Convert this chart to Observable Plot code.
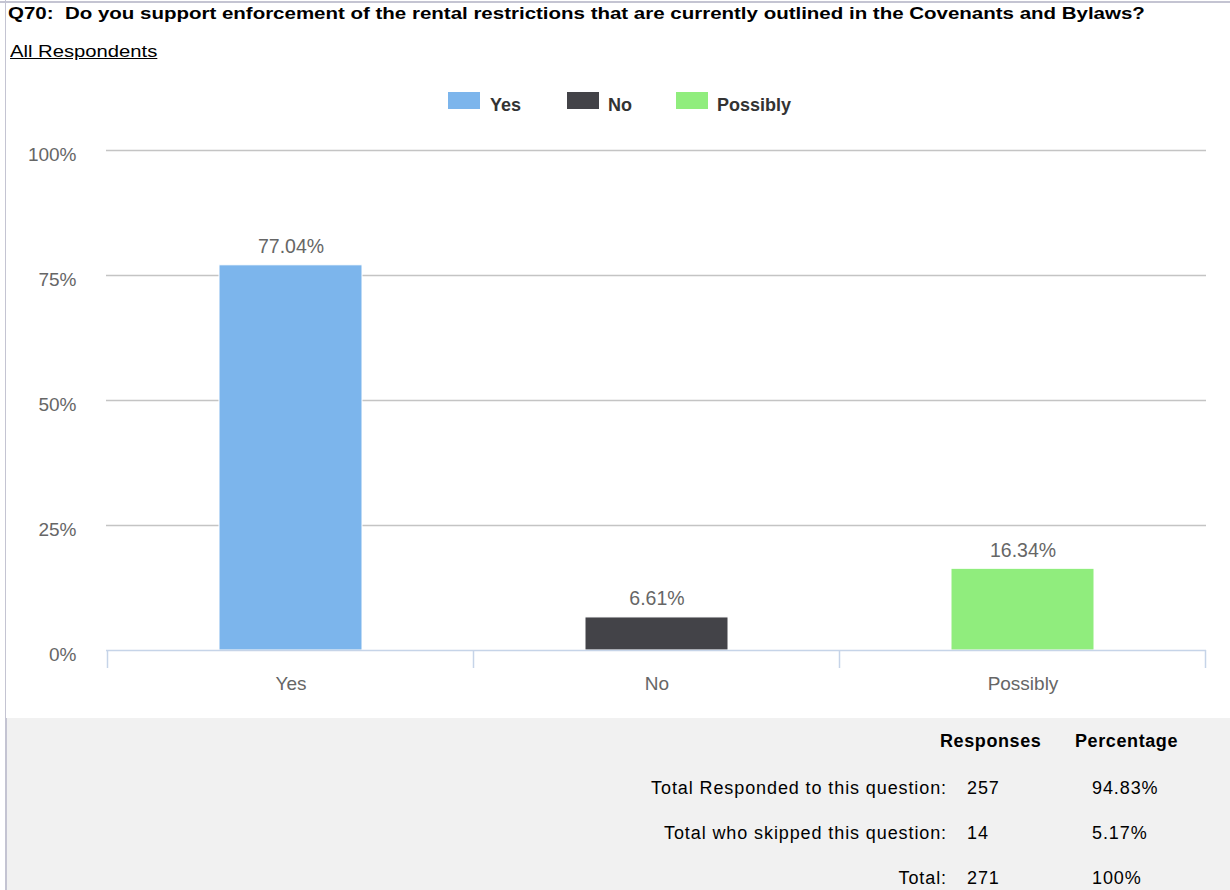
<!DOCTYPE html>
<html>
<head>
<meta charset="utf-8">
<script src="https://cdn.jsdelivr.net/npm/d3@7"></script>
<script src="https://cdn.jsdelivr.net/npm/@observablehq/plot@0.6"></script>
<style>
  html, body { margin: 0; padding: 0; background: #fff; }
  body { width: 1230px; height: 890px; position: relative; overflow: hidden; font-family: "Liberation Sans", Arial, sans-serif; }
  .abs { position: absolute; white-space: nowrap; }
  #topline { left: 0; top: 1px; width: 1230px; height: 2px; background: #c4c4d2; }
  #leftline { left: 5px; top: 0; width: 1px; height: 890px; background: #c4c4d2; }
  #title { left: 8px; top: 5px; font-size: 16px; font-weight: bold; color: #000; transform: scaleX(1.28); transform-origin: 0 0; }
  #sub { left: 10px; top: 42px; font-size: 17px; color: #000; text-decoration: underline; transform: scaleX(1.19); transform-origin: 0 0; }
  #legend { left: 0; top: 92px; width: 1230px; height: 20px; }
  .sw { position: absolute; top: 0; width: 32px; height: 17px; }
  .lt { position: absolute; top: 3px; font-size: 18px; font-weight: bold; color: #333; }
  #chart { left: 0; top: 130px; }
  #table { left: 5px; top: 718px; width: 1225px; height: 172px; background: #f1f1f1; border-left: 2px solid #c4c4d2; box-sizing: border-box; }
  .tc { position: absolute; font-size: 18px; color: #000; letter-spacing: 0.9px; }
  .th { font-weight: bold; letter-spacing: 0.6px; }
</style>
</head>
<body>
<div class="abs" id="topline"></div>
<div class="abs" id="leftline"></div>
<div class="abs" id="title">Q70:&nbsp; Do you support enforcement of the rental restrictions that are currently outlined in the Covenants and Bylaws?</div>
<div class="abs" id="sub">All Respondents</div>
<div class="abs" id="legend"></div>
<div class="abs" id="chart"></div>
<div class="abs" id="table"></div>
<script>
// ---- data ----
const categories = ["Yes", "No", "Possibly"];
const percentages = [77.04, 6.61, 16.34];
const colors = ["#7cb5ec", "#434348", "#90ed7d"];
const yTicks = [0, 25, 50, 75, 100];

const tableHeaders = ["Responses", "Percentage"];
const tableRowLabels = ["Total Responded to this question:", "Total who skipped this question:", "Total:"];
const tableResponses = ["257", "14", "271"];
const tablePercentages = ["94.83%", "5.17%", "100%"];

const data = categories.map((c, i) => ({category: c, value: percentages[i]}));

// ---- legend ----
const legend = document.getElementById("legend");
const legendPos = [[448, 490], [567, 608], [676, 717]];
categories.forEach((c, i) => {
  const sw = document.createElement("div");
  sw.className = "sw"; sw.style.left = legendPos[i][0] + "px"; sw.style.background = colors[i];
  legend.appendChild(sw);
  const t = document.createElement("div");
  t.className = "lt"; t.style.left = legendPos[i][1] + "px"; t.textContent = c;
  legend.appendChild(t);
});

const chart = Plot.plot({
  width: 1230,
  height: 588,
  marginTop: 20,
  marginBottom: 68,
  marginLeft: 106,
  marginRight: 24,
  style: {fontFamily: '"Liberation Sans", Arial, sans-serif', background: "transparent"},
  x: {domain: categories, paddingInner: 0.61, paddingOuter: 0.305, label: null},
  y: {domain: [0, 100], label: null},
  color: {domain: categories, range: colors},
  marks: [
    Plot.gridY(yTicks.filter(d => d > 0), {stroke: "#c4c4c4", strokeOpacity: 1, strokeWidth: 1.3}),
    Plot.barY(data, {x: "category", y: "value", fill: "category", stroke: "#fff", strokeWidth: 1}),
    Plot.ruleY([0], {stroke: "#c6d4e8", strokeWidth: 1.5}),
    Plot.axisY({ticks: yTicks, tickFormat: d => d + "%", tickSize: 0, tickPadding: 30, dy: 4, fontSize: 19, fill: "#666"}),
    Plot.axisX({tickSize: 0, tickPadding: 26, fontSize: 19, fill: "#666"}),
    Plot.text(data, {x: "category", y: "value", text: d => d.value.toFixed(2) + "%", lineAnchor: "bottom", dy: -12, fontSize: 19.5, fill: "#666"})
  ]
});
document.getElementById("chart").appendChild(chart);

// ---- boundary ticks between categories, derived from the plot's own scales ----
(function () {
  const xs = Plot.scale({x: chart.scale("x")});
  const ys = Plot.scale({y: chart.scale("y")});
  const bw = chart.scale("x").bandwidth || 0;
  const centers = categories.map(c => xs.apply(c) + bw / 2);
  const step = centers[1] - centers[0];
  const bounds = centers.map(c => c - step / 2);
  bounds.push(centers[centers.length - 1] + step / 2);
  const y0 = ys.apply(0);
  const g = d3.select(chart).append("g").attr("stroke", "#c6d4e8").attr("stroke-width", 1.5);
  bounds.forEach(px => {
    g.append("line").attr("x1", px).attr("x2", px).attr("y1", y0).attr("y2", y0 + 18);
  });
})();

// ---- table ----
const table = document.getElementById("table");
function addText(txt, left, top, opts = {}) {
  const d = document.createElement("div");
  d.className = "tc" + (opts.bold ? " th" : "");
  d.textContent = txt;
  d.style.top = top + "px";
  if (opts.right != null) { d.style.right = opts.right + "px"; } else { d.style.left = left + "px"; }
  table.appendChild(d);
}
// table coords relative to table div (left 5, top 718)
addText(tableHeaders[0], 933, 13, {bold: true});
addText(tableHeaders[1], 1068, 13, {bold: true});
const rowTops = [60, 105, 150];
tableRowLabels.forEach((l, i) => {
  addText(l, 0, rowTops[i], {right: 1225 - 942});
  addText(tableResponses[i], 960, rowTops[i]);
  addText(tablePercentages[i], 1085, rowTops[i]);
});
</script>
</body>
</html>
